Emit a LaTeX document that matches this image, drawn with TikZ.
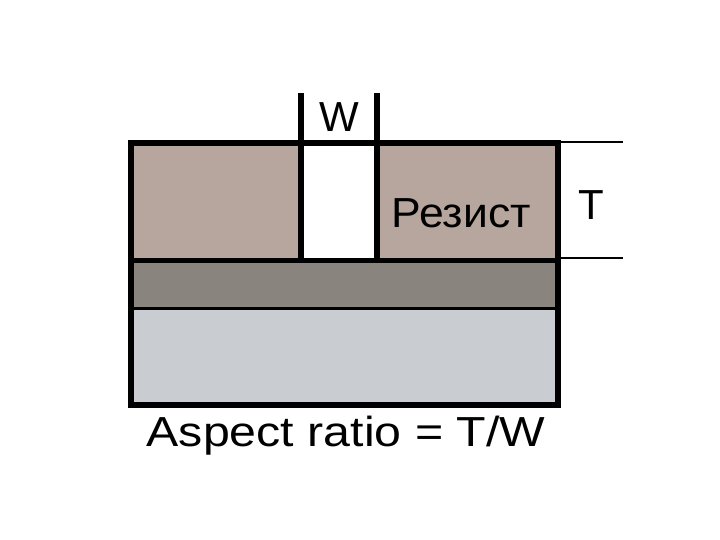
\documentclass[tikz,border=0pt]{standalone}
\usepackage{fontspec}
\setmainfont{Liberation Sans}
\definecolor{resist}{HTML}{B7A69E}
\definecolor{darklayer}{HTML}{8A847F}
\definecolor{lightlayer}{HTML}{C9CCD1}
\tikzset{
  lbl/.style={inner sep=0pt, font=\fontsize{42}{46}\selectfont},
  edge/.style={draw=black, line width=#1},
}
\begin{document}
\begin{tikzpicture}[x=1pt,y=-1pt]
\useasboundingbox (0,0) rectangle (720,540);
% layers
\fill[lightlayer] (131,308) rectangle (558,405);
\fill[darklayer] (131,260) rectangle (558,308);
\fill[resist] (131,143) rectangle (301,260);
\fill[resist] (377,143) rectangle (558,260);
\fill[white] (301,143) rectangle (377,260);
% interior lines
\draw[edge=3pt] (131,308) -- (558,308);
\draw[edge=5pt] (131,260) -- (558,260);
\draw[edge=6pt] (301,93) -- (301,262);
\draw[edge=6pt] (377,93) -- (377,262);
% outer frame
\draw[edge=6pt] (131,143) rectangle (558,405);
% T dimension lines
\draw[edge=2.5pt] (558,142) -- (623,142);
\draw[edge=2.5pt] (558,258) -- (623,258);
% labels
\node[lbl, anchor=base] (w) at (339,132) {W};
\node[lbl, anchor=base] (t) at (591,220) {T};
\node[lbl, anchor=base] (rez) at (461,227) {\scalebox{1.06}[1]{Резист}};
\node[lbl, anchor=base] (ar) at (346,446) {\scalebox{1.15}[1]{Aspect ratio = T/W}};
\end{tikzpicture}
\end{document}
